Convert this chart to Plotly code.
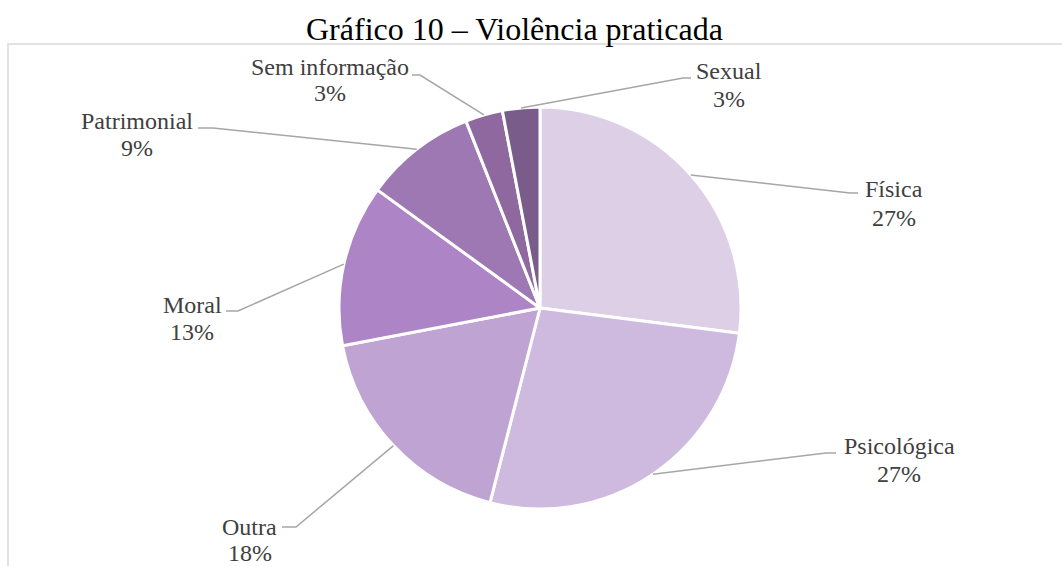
import math
import plotly.graph_objects as go

# Violence types and their share of cases
categories = ["Física", "Psicológica", "Outra", "Moral", "Patrimonial", "Sem informação", "Sexual"]
values = [27, 27, 18, 13, 9, 3, 3]
colors = ["#DDD0E6", "#CFBADF", "#BFA3D3", "#AD85C6", "#9D78B3", "#8E689F", "#7A5C8B"]

W, H = 1062, 566
FONT = "Liberation Serif, Times New Roman, serif"
TEXT = "#404040"
LINE = "#A6A6A6"

# pie placement in pixels
cx, cy, r = 540, 308, 201

# label placement: text centre x, name y, percent y, leader elbow and end
label_pos = {
    "Física":         dict(tx=894, ny=189, py=218, elbow=(850, 193), end=(858, 193)),
    "Psicológica":    dict(tx=899, ny=446, py=474, elbow=(826, 453), end=(836, 453)),
    "Outra":          dict(tx=250, ny=527, py=553, elbow=(296, 527), end=(282, 527)),
    "Moral":          dict(tx=192, ny=305, py=332, elbow=(238, 311), end=(226, 311)),
    "Patrimonial":    dict(tx=137, ny=121, py=148, elbow=(213, 128), end=(198, 128)),
    "Sem informação": dict(tx=330, ny=67,  py=93,  elbow=(420, 75),  end=(412, 75)),
    "Sexual":         dict(tx=729, ny=71,  py=99,  elbow=(683, 78),  end=(691, 78)),
}


def px(x):
    return x / W


def py(y):
    return 1 - y / H


fig = go.Figure(go.Pie(
    labels=categories,
    values=values,
    sort=False,
    direction="clockwise",
    rotation=0,
    textinfo="none",
    hoverinfo="label+percent",
    marker=dict(colors=colors, line=dict(color="white", width=3)),
    domain=dict(x=[px(cx - r), px(cx + r)], y=[py(cy + r), py(cy - r)]),
    showlegend=False,
))

total = sum(values)
shapes = []
annotations = []

# chart area border
shapes.append(dict(type="rect", xref="paper", yref="paper",
                   x0=px(8), y0=py(H + 20), x1=px(W + 20), y1=py(44),
                   line=dict(color="#D9D9D9", width=1.5), layer="below"))

cum = 0
for cat, v in zip(categories, values):
    mid = (cum + v / 2) / total * 2 * math.pi
    cum += v
    sx = cx + r * math.sin(mid)
    sy = cy - r * math.cos(mid)
    p = label_pos[cat]
    ex, ey = p["elbow"]
    tx, ty = p["end"]
    shapes.append(dict(type="path", xref="paper", yref="paper",
                       path=f"M {px(sx)},{py(sy)} L {px(ex)},{py(ey)} L {px(tx)},{py(ty)}",
                       line=dict(color=LINE, width=1.5)))
    annotations.append(dict(x=px(p["tx"]), y=py(p["ny"]), xref="paper", yref="paper",
                            text=cat, showarrow=False, xanchor="center", yanchor="middle",
                            font=dict(family=FONT, size=24, color=TEXT)))
    annotations.append(dict(x=px(p["tx"]), y=py(p["py"]), xref="paper", yref="paper",
                            text=f"{round(v / total * 100)}%", showarrow=False,
                            xanchor="center", yanchor="middle",
                            font=dict(family=FONT, size=24, color=TEXT)))

annotations.append(dict(x=px(514), y=py(29), xref="paper", yref="paper",
                        text="Gráfico 10 – Violência praticada", showarrow=False,
                        xanchor="center", yanchor="middle",
                        font=dict(family=FONT, size=32, color="#000000")))

fig.update_layout(
    width=W, height=H,
    margin=dict(l=0, r=0, t=0, b=0),
    paper_bgcolor="white",
    plot_bgcolor="white",
    shapes=shapes,
    annotations=annotations,
)

fig.write_html("out.html")
